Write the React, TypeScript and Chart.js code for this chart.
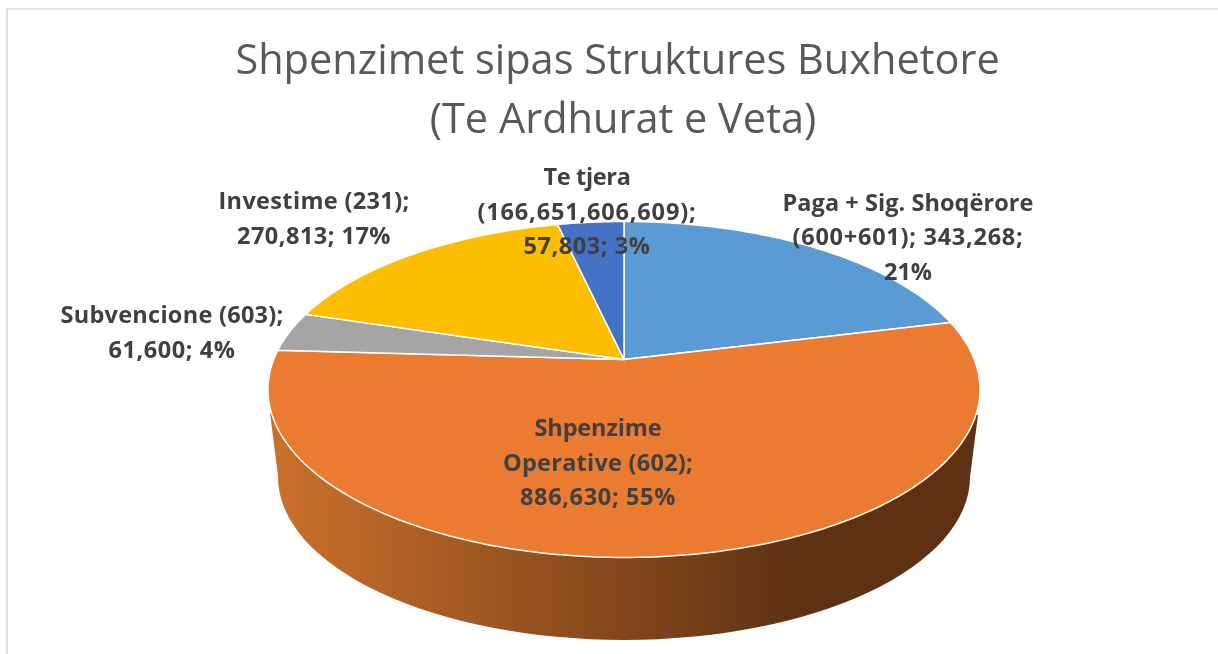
import React, { useEffect, useRef } from "react";
import { Chart, registerables } from "chart.js";

Chart.register(...registerables);

const categories = ["Paga + Sig. Shoqërore (600+601)", "Shpenzime Operative (602)", "Subvencione (603)", "Investime (231)", "Te tjera (166,651,606,609)"];
const values = [343268, 886630, 61600, 270813, 57803];
const colors = ["#5b9bd5", "#ea7b31", "#a5a5a5", "#fcbf00", "#4472c4"];
const titleLines = ["Shpenzimet sipas Struktures Buxhetore ", "(Te Ardhurat e Veta)"];
const labelLines = [
  ["Paga + Sig. Shoqërore", "(600+601); 343,268;", "21%"],
  ["Shpenzime", "Operative (602);", "886,630; 55%"],
  ["Subvencione (603);", "61,600; 4%"],
  ["Investime (231);", "270,813; 17%"],
  ["Te tjera", "(166,651,606,609);", "57,803; 3%"],
];
const labelWidths = [
  [251, 231, 48],
  [127, 190, 156],
  [223, 127],
  [191, 154],
  [87, 219, 127],
];
const labelX = [908, 598, 172, 314, 587];
const labelY = [210.5, 436, 323, 209, 185];

const APEX_X = 624;
const APEX_Y = 359.5;
const K = -0.1786;
const SCALE_X = 350.3;
const SCALE_Y = 162.6;
const LABEL_FONT = 'bold 23.5px "Open Sans"';

const project = (a: number) => {
  const u = Math.cos(a);
  const v = Math.sin(a);
  const d = 1 + K * v;
  return { x: APEX_X + (SCALE_X * u) / d, y: APEX_Y + (SCALE_Y * v) / d };
};

const piePlugin = {
  id: "pie3d",
  beforeDraw(chart: any) {
    const { ctx, width, height } = chart;
    ctx.save();
    ctx.fillStyle = "#ffffff";
    ctx.fillRect(0, 0, width, height);
    ctx.strokeStyle = "#d9d9d9";
    ctx.lineWidth = 1.6;
    ctx.beginPath();
    ctx.moveTo(width, 9);
    ctx.lineTo(7, 9);
    ctx.lineTo(7, height);
    ctx.stroke();
    ctx.restore();
  },
  beforeDatasetDraw() {
    return false;
  },
  afterDatasetsDraw(chart: any) {
    const { ctx } = chart;
    const arcs = chart.getDatasetMeta(0).data;
    ctx.save();

    // side wall of the pie
    const grad = ctx.createLinearGradient(270, 0, 800, 0);
    grad.addColorStop(0, "#cb712c");
    grad.addColorStop(1, "#5e3113");
    ctx.fillStyle = grad;
    ctx.beginPath();
    ctx.moveTo(270, 413);
    ctx.lineTo(278, 476);
    ctx.ellipse(APEX_X, 477, 346, 163, 0, Math.PI, 0, true);
    ctx.lineTo(978, 415);
    ctx.closePath();
    ctx.fill();

    // top face
    ctx.lineJoin = "round";
    arcs.forEach((arc: any, i: number) => {
      const { startAngle, endAngle } = arc;
      ctx.beginPath();
      ctx.moveTo(APEX_X, APEX_Y);
      const steps = Math.max(8, Math.ceil((endAngle - startAngle) * 60));
      for (let s = 0; s <= steps; s++) {
        const p = project(startAngle + ((endAngle - startAngle) * s) / steps);
        ctx.lineTo(p.x, p.y);
      }
      ctx.closePath();
      ctx.fillStyle = colors[i];
      ctx.fill();
      ctx.strokeStyle = "#ffffff";
      ctx.lineWidth = 1.5;
      ctx.stroke();
    });

    // data labels, each line fitted to the width it has in the picture
    ctx.font = LABEL_FONT;
    ctx.fillStyle = "#404040";
    ctx.textAlign = "center";
    ctx.textBaseline = "alphabetic";
    labelLines.forEach((lines, i) => {
      lines.forEach((line, j) => {
        ctx.letterSpacing = "0px";
        const natural = ctx.measureText(line).width;
        ctx.letterSpacing = `${(labelWidths[i][j] - natural) / line.length}px`;
        ctx.fillText(line, labelX[i], labelY[i] + j * 34.6);
      });
    });
    ctx.restore();
  },
};

export default function App() {
  const ref = useRef<HTMLCanvasElement | null>(null);
  useEffect(() => {
    document.body.style.margin = "0";
    const chart = new Chart(ref.current as HTMLCanvasElement, {
      type: "pie",
      data: {
        labels: categories,
        datasets: [{ data: values, backgroundColor: colors, borderColor: "#ffffff", borderWidth: 1.5 }],
      },
      options: {
        animation: false,
        responsive: false,
        layout: { padding: { left: 28, top: 0 } },
        plugins: {
          legend: { display: false },
          tooltip: { enabled: false },
          title: {
            display: true,
            text: titleLines,
            color: "#595959",
            font: { family: '"Open Sans"', size: 41.5, weight: "normal", lineHeight: 1.42 },
            padding: { top: 33, bottom: 0 },
          },
        },
      },
      plugins: [piePlugin],
    } as any);
    return () => chart.destroy();
  }, []);
  return <canvas ref={ref} width={1218} height={654} style={{ position: "absolute", left: 0, top: 0, display: "block" }} />;
}
